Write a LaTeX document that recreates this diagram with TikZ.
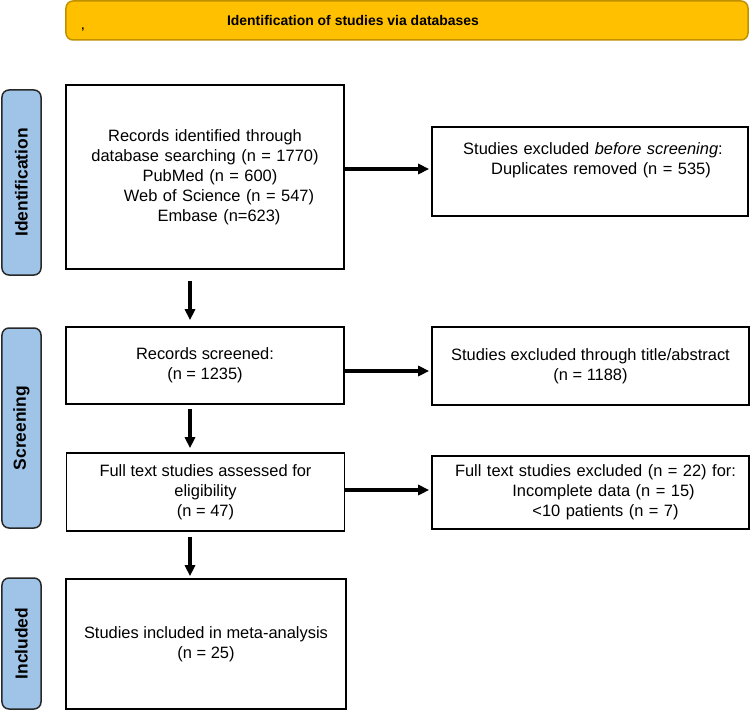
\documentclass[tikz,border=0pt]{standalone}
\usepackage{fontspec}
\setmainfont{Liberation Sans}
\usetikzlibrary{arrows.meta}
\definecolor{bannerfill}{RGB}{255,192,0}
\definecolor{bannerdraw}{RGB}{191,144,0}
\definecolor{sidefill}{RGB}{160,196,232}
\definecolor{sidedraw}{RGB}{40,40,40}
\tikzset{
  box/.style={draw=black, line width=1.6bp, fill=white, inner sep=0pt, rectangle},
  side/.style={draw=sidedraw, line width=1.5bp, fill=sidefill, rounded corners=7bp, inner sep=0pt, rectangle},
  banner/.style={draw=bannerdraw, line width=1.5bp, fill=bannerfill, rounded corners=7bp, inner sep=0pt, rectangle},
  txt/.style={align=center, inner sep=0pt, font=\fontsize{16.5}{20}\selectfont},
  sidetxt/.style={rotate=90, inner sep=0pt, font=\fontsize{17.5}{20}\selectfont\bfseries},
  arr/.style={line width=3.2bp, -{Triangle[length=11bp,width=10bp]}}
}
\begin{document}
\begin{tikzpicture}[x=1bp,y=-1bp]
\useasboundingbox (0,0) rectangle (750,711);
% banner
\node[banner, minimum width=682bp, minimum height=39bp] (ban) at (407,20.5) {};
\node[inner sep=0pt, font=\fontsize{14}{16}\selectfont\bfseries] (bantxt) at (353,20.5) {Identification of studies via databases};
\node[inner sep=0pt, font=\fontsize{11}{12}\selectfont\bfseries] (mark) at (83,30) {,};
% side bars
\node[side, minimum width=39bp, minimum height=185bp] (s1) at (21.5,182.5) {};
\node[sidetxt] (s1t) at (s1.center) {Identification};
\node[side, minimum width=39bp, minimum height=200bp] (s2) at (21.5,428) {};
\node[sidetxt] (s2t) at (s2.center) {Screening};
\node[side, minimum width=39bp, minimum height=131bp] (s3) at (21.5,643.5) {};
\node[sidetxt] (s3t) at (s3.center) {Included};
% boxes
\node[box, minimum width=278bp, minimum height=184bp] (b1) at (205,177) {};
\node[txt, text width=278bp] (b1t) at (b1.center) {Records identified through\\database searching (n = 1770)\\\hspace*{10bp}PubMed (n = 600)\\\hspace*{28bp}Web of Science (n = 547)\\\hspace*{28bp}Embase (n=623)};
\node[box, minimum width=316bp, minimum height=89bp] (r1) at (590,171.5) {};
\node[txt, text width=316bp] (r1t) at (590,160) {\hspace*{6bp}Studies excluded \textit{before screening}:\\\hspace*{22bp}Duplicates removed (n = 535)};
\node[box, minimum width=278bp, minimum height=77bp] (b2) at (205,365.5) {};
\node[txt] (b2t) at (b2.center) {Records screened:\\(n = 1235)};
\node[box, minimum width=317bp, minimum height=78bp] (r2) at (590.5,366) {};
\node[txt] (r2t) at (r2.center) {Studies excluded through title/abstract\\(n = 1188)};
\node[box, minimum width=278bp, minimum height=78bp] (b3) at (205.5,492) {};
\node[txt] (b3t) at (b3.center) {Full text studies assessed for\\eligibility\\(n = 47)};
\node[box, minimum width=317bp, minimum height=73bp] (r3) at (590.5,492.5) {};
\node[txt, text width=317bp] (r3t) at (r3.center) {\hspace*{10bp}Full text studies excluded (n = 22) for:\\\hspace*{26bp}Incomplete data (n = 15)\\\hspace*{30bp}<10 patients (n = 7)};
\node[box, minimum width=280bp, minimum height=130bp] (b4) at (206,644) {};
\node[txt] (b4t) at (b4.center) {Studies included in meta-analysis\\(n = 25)};
% arrows
\coordinate (ax) at (190,0);
\draw[arr] ([yshift=8bp]b1.east) -- ([yshift=8bp,xshift=-2bp]b1.east -| r1.west);
\draw[arr] ([yshift=-5.5bp]b2.east) -- ([yshift=-5.5bp,xshift=-2bp]b2.east -| r2.west);
\draw[arr] ([yshift=2bp]b3.east) -- ([yshift=2bp,xshift=-2bp]b3.east -| r3.west);
\draw[arr] ([yshift=-11bp]b1.south -| ax) -- ([yshift=6bp]b2.north -| ax);
\draw[arr] ([yshift=-4bp]b2.south -| ax) -- ([yshift=4bp]b3.north -| ax);
\draw[arr] ([yshift=-5bp]b3.south -| ax) -- ([yshift=2bp]b4.north -| ax);
\end{tikzpicture}
\end{document}
